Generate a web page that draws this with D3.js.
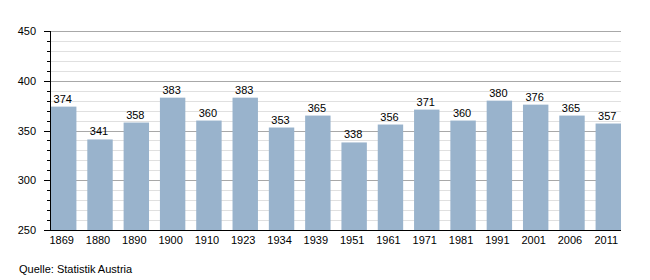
<!DOCTYPE html>
<html>
<head>
<meta charset="utf-8">
<script src="https://cdn.jsdelivr.net/npm/d3@7"></script>
<style>
body { margin: 0; background: #fff; }
text { font-family: "Liberation Sans", Arial, sans-serif; font-size: 11px; fill: #000; }
</style>
</head>
<body>
<svg width="650" height="280"></svg>
<script>
var years = ["1869", "1880", "1890", "1900", "1910", "1923", "1934", "1939", "1951", "1961", "1971", "1981", "1991", "2001", "2006", "2011"];
var values = [374, 341, 358, 383, 360, 383, 353, 365, 338, 356, 371, 360, 380, 376, 365, 357];
var yTicks = [250, 300, 350, 400, 450];

var svg = d3.select('svg');
var plotLeft = 50, plotRight = 621, plotTop = 31, plotBottom = 230;

var x = d3.scaleBand().domain(years).range([plotLeft + 1, plotRight]).paddingInner(0.3).paddingOuter(0);
var y = d3.scaleLinear().domain([250, 450]).range([plotBottom, plotTop]);

function py(d) { return Math.round(y(d)) + 0.5; }

// minor gridlines
svg.append('g').selectAll('line')
    .data(d3.range(250, 451, 10).filter(function(d) { return d % 50 != 0; }))
    .enter().append('line')
    .attr('x1', plotLeft).attr('x2', plotRight)
    .attr('y1', py).attr('y2', py)
    .attr('stroke', '#e0e0e0');

// major gridlines
svg.append('g').selectAll('line')
    .data(yTicks.slice(1))
    .enter().append('line')
    .attr('x1', plotLeft).attr('x2', plotRight)
    .attr('y1', py).attr('y2', py)
    .attr('stroke', '#a8a8a8');

// bars
svg.append('g').selectAll('rect')
    .data(values)
    .enter().append('rect')
    .attr('x', function(d, i) { return x(years[i]); })
    .attr('width', x.bandwidth())
    .attr('y', function(d) { return y(d); })
    .attr('height', function(d) { return plotBottom - y(d); })
    .attr('fill', '#99b3cc');

// value labels
svg.append('g').selectAll('text')
    .data(values)
    .enter().append('text')
    .attr('x', function(d, i) { return x(years[i]) + x.bandwidth() / 2 - 1; })
    .attr('y', function(d) { return y(d) - 4; })
    .attr('text-anchor', 'middle')
    .text(function(d) { return d; });

// y axis ticks
svg.append('g').selectAll('line')
    .data(d3.range(250, 451, 10))
    .enter().append('line')
    .attr('x1', function(d) { return d % 50 == 0 ? plotLeft - 6 : plotLeft - 3; })
    .attr('x2', plotLeft)
    .attr('y1', py).attr('y2', py)
    .attr('stroke', '#000');

svg.append('g').selectAll('text')
    .data(yTicks)
    .enter().append('text')
    .attr('x', plotLeft - 14)
    .attr('y', function(d) { return y(d) + 4; })
    .attr('text-anchor', 'end')
    .text(function(d) { return d; });

svg.append('line')
    .attr('x1', plotLeft + 0.5).attr('x2', plotLeft + 0.5)
    .attr('y1', plotTop).attr('y2', plotBottom + 1)
    .attr('stroke', '#000');

// x axis
svg.append('line')
    .attr('x1', plotLeft).attr('x2', plotRight)
    .attr('y1', plotBottom + 0.5).attr('y2', plotBottom + 0.5)
    .attr('stroke', '#000');

svg.append('g').selectAll('text')
    .data(years)
    .enter().append('text')
    .attr('x', function(d) { return x(d) + x.bandwidth() / 2 - 2; })
    .attr('y', plotBottom + 14)
    .attr('text-anchor', 'middle')
    .text(function(d) { return d; });

svg.append('text')
    .attr('x', 19).attr('y', 273)
    .text('Quelle: Statistik Austria');
</script>
</body>
</html>
